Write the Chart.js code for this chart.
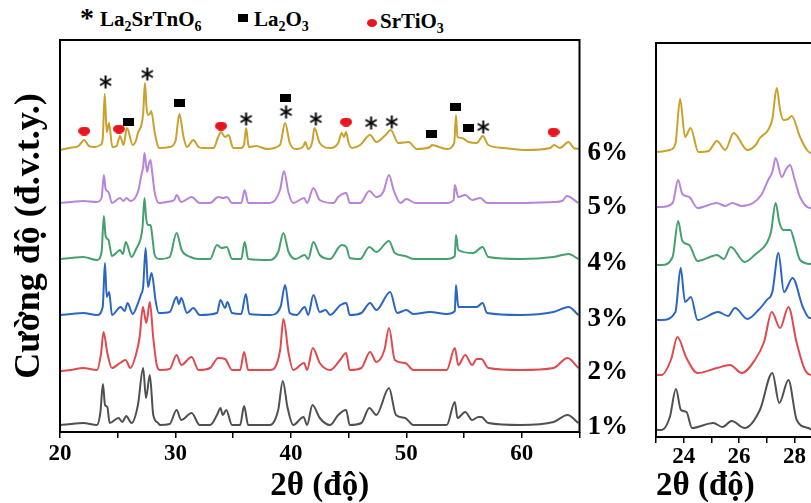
<!DOCTYPE html>
<html>
<head>
<meta charset="utf-8">
<script src="https://cdn.jsdelivr.net/npm/chart.js@4"></script>
<style>
  html, body { margin: 0; padding: 0; background: #fff; overflow: hidden; width: 811px; height: 503px; }
  canvas { position: absolute; top: 0; }
  #main { left: 0; }
  #zoom { left: 650px; }
  .lg { position: absolute; font: bold 21px "Liberation Serif", serif; color: #000; white-space: nowrap; line-height: 1; }
  .lg sub { font-size: 14px; vertical-align: -5px; }
  .mk { position: absolute; }
</style>
</head>
<body>
<div class="lg" style="left:80px; top:4px; font-size:28px">*</div>
<div class="lg" style="left:100px; top:9px">La<sub>2</sub>SrTnO<sub>6</sub></div>
<div class="mk" style="left:238px; top:14px; width:10px; height:8px; background:#000"></div>
<div class="lg" style="left:254px; top:9px">La<sub>2</sub>O<sub>3</sub></div>
<div class="mk" style="left:367px; top:19px; width:10px; height:8px; border-radius:50%; background:#e8141e"></div>
<div class="lg" style="left:380px; top:11px">SrTiO<sub>3</sub></div>

<canvas id="main" width="650" height="503"></canvas>
<canvas id="zoom" width="180" height="503"></canvas>

<script>
// XRD patterns, 2θ (degrees) vs stacked intensity (a.u.)
const sampleLabels = ['1%', '2%', '3%', '4%', '5%', '6%']
const lineColors = ['#505050', '#e04a4e', '#2a66c2', '#44a06c', '#b884da', '#c9a12b']
const mainTicks = [20, 30, 40, 50, 60]
const zoomTicks = [24, 26, 28]

const s1 = [[20,7],[21,8],[22,9],[23.2,7],[23.5,20],[23.72,48],[23.9,27],[24.1,25],[24.3,9],[25.07,14],[25.4,10],[25.73,16],[26.2,9],[26.75,27],[27.2,64],[27.45,34],[27.78,57],[28.08,17],[28.5,9],[28.67,7],[29.5,8],[30.1,22],[30.5,12],[31.4,19],[32.1,7],[33.0,7],[33.6,17],[33.9,24],[34.1,17],[34.4,22],[34.9,7],[35.6,7],[35.95,26],[36.3,7],[38.2,7],[38.9,22],[39.3,51],[39.7,25],[40.2,7],[41.1,15],[41.4,7],[41.87,27],[42.5,14],[43.4,7],[44.1,17],[44.78,22],[45.1,7],[46.1,9],[46.8,24],[47.4,17],[48.5,44],[49.1,17],[49.9,14],[50.6,7],[53.5,7],[54.2,30],[54.43,14],[55.1,20],[55.7,12],[56.25,15],[56.5,15],[57.1,9],[59.9,7],[62.75,10],[63.96,17],[64.9,9]]
const s2 = [[20,61],[21,62],[22,64],[23.2,62],[23.55,78],[23.77,100],[24.1,79],[24.5,64],[25.2,69],[25.67,72],[26.1,64],[26.57,77],[26.9,95],[27.18,125],[27.48,109],[27.78,130],[28.08,94],[28.38,67],[28.67,62],[29.5,63],[30.1,77],[30.5,67],[31.4,75],[32.0,62],[33.0,64],[33.7,74],[34.3,73],[34.9,62],[35.6,62],[35.95,80],[36.3,62],[38.2,62],[39.07,82],[39.35,113],[39.8,79],[40.2,62],[41.15,69],[41.4,62],[41.9,84],[42.5,69],[43.4,62],[44.26,72],[44.78,79],[45.1,62],[46.1,64],[46.86,80],[47.4,70],[48.1,82],[48.5,104],[49.0,72],[49.9,69],[50.6,62],[53.5,62],[54.2,84],[54.5,67],[55.1,77],[55.7,67],[56.1,73],[56.5,73],[57.1,64],[59.9,62],[62.75,64],[63.96,74],[64.9,64]]
const s3 = [[20,117],[21,118],[22,119],[23.2,117],[23.7,125],[23.89,169],[24.05,135],[24.26,140],[24.5,117],[25.25,125],[25.6,121],[25.85,129],[26.3,118],[26.7,127],[27.0,137],[27.2,145],[27.42,184],[27.62,145],[27.93,159],[28.3,130],[28.55,119],[29.5,120],[30.1,135],[30.3,128],[30.5,134],[31.0,119],[31.55,124],[32.1,117],[33.6,119],[33.9,132],[34.3,124],[34.5,130],[34.9,119],[35.7,118],[36.1,138],[36.4,118],[38.2,117],[39.1,125],[39.5,147],[39.9,119],[40.5,117],[41.2,125],[41.5,117],[41.95,137],[42.5,120],[43.0,122],[43.4,117],[44.3,127],[44.8,129],[45.1,117],[46.1,119],[46.86,129],[47.4,122],[48.6,140],[49.2,119],[50.0,122],[50.6,118],[52.06,120],[53.5,118],[54.2,121],[54.3,147],[54.5,125],[55.4,125],[56.1,125],[56.6,129],[57.0,119],[59.9,117],[62.75,120],[64.05,125],[64.9,117]]
const s4 = [[20,173],[21,174],[22,175],[23.2,172],[23.6,180],[23.8,216],[23.95,196],[24.2,192],[24.5,176],[25.05,181],[25.2,182],[25.45,178],[25.7,190],[26.2,175],[26.6,183],[27.0,194],[27.15,205],[27.32,234],[27.45,215],[27.6,207],[27.85,207],[28.0,195],[28.2,177],[28.6,173],[29.5,175],[30.1,199],[30.54,182],[31.3,175],[32.0,173],[33.0,173],[33.6,187],[34.0,184],[34.45,185],[34.9,173],[35.7,173],[36.0,190],[36.3,173],[38.2,172],[38.9,180],[39.35,199],[39.8,180],[40.4,173],[41.2,177],[41.5,173],[41.95,190],[42.5,177],[43.4,173],[44.1,184],[44.4,187],[44.8,185],[45.1,174],[46.0,173],[46.8,185],[47.4,180],[48.5,191],[49.0,179],[49.9,176],[50.6,173],[53.5,173],[54.2,176],[54.3,197],[54.5,182],[55.8,179],[56.6,185],[57.1,175],[59.9,173],[62.75,175],[64.05,178],[64.9,173]]
const s5 = [[20,229],[21,230],[22,231],[23.2,230],[23.6,234],[23.8,257],[23.95,243],[24.2,240],[24.5,229],[25.2,234],[25.5,231],[25.75,234],[26.1,231],[26.5,234],[26.8,242],[27.05,257],[27.2,265],[27.32,279],[27.54,260],[27.7,268],[27.84,272],[28.0,258],[28.2,240],[28.56,229],[29.2,230],[29.9,232],[30.1,237],[30.5,230],[31.4,235],[32.1,229],[33.0,229],[33.7,235],[34.15,234],[34.45,235],[34.9,229],[35.7,229],[36.0,242],[36.3,229],[38.2,229],[39.06,242],[39.4,261],[39.8,239],[40.2,229],[41.15,234],[41.4,229],[41.95,244],[42.5,232],[43.7,229],[44.1,235],[44.8,239],[45.1,229],[46.0,229],[46.8,241],[47.4,235],[48.0,240],[48.5,257],[48.9,242],[49.5,229],[50.0,233],[50.8,229],[53.5,229],[54.1,232],[54.2,247],[54.5,235],[55.1,237],[55.7,232],[56.4,234],[57.0,229],[59.9,229],[62.75,230],[63.5,231],[63.9,236],[64.9,229]]
const s6 = [[20,282],[20.8,284],[21.6,286],[22.1,292],[22.5,286],[23.0,285],[23.5,287],[23.7,293],[23.87,338],[24.05,300],[24.25,309],[24.53,285],[24.9,286],[25.2,296],[25.5,287],[25.8,304],[26.3,287],[26.6,292],[26.75,299],[27.05,307],[27.2,318],[27.36,349],[27.48,327],[27.6,317],[27.77,318],[27.9,321],[28.2,300],[28.45,287],[28.6,284],[29.5,285],[30.0,291],[30.34,318],[30.7,295],[31.0,285],[31.55,292],[32.0,285],[32.4,284],[33.3,284],[33.7,295],[33.95,300],[34.3,295],[34.6,297],[35.0,284],[35.7,284],[35.95,288],[36.12,304],[36.35,285],[37.0,286],[37.9,283],[39.05,287],[39.5,309],[39.9,289],[40.5,283],[41.1,286],[41.23,290],[41.5,283],[41.85,290],[42.04,304],[42.5,289],[43.4,284],[44.1,289],[44.4,299],[44.6,295],[44.78,300],[45.0,289],[45.3,284],[46.0,287],[46.86,297],[47.4,290],[48.2,297],[48.65,302],[49.3,289],[50.2,290],[50.9,283],[52.06,285],[52.2,287],[53.5,283],[54.15,289],[54.3,317],[54.43,295],[54.8,294],[55.4,290],[56.1,289],[56.63,296],[57.1,287],[58.4,284],[60.4,282],[62.46,284],[62.8,287],[63.3,284],[64.05,290],[64.5,284],[65,283]]
const series = [s1, s2, s3, s4, s5, s6]

// phase markers above the 6% pattern
const markLa2SrTnO6 = [[23.95,350],[27.56,358],[36.12,313],[39.58,320],[42.16,313],[46.95,309],[48.74,310],[56.66,305]]
const markLa2O3 = [[25.92,310],[30.34,329],[39.5,334],[52.21,298],[54.29,325],[55.38,304]]
const markSrTiO3 = [[22.1,301],[25.11,303],[33.95,306],[44.78,310],[62.75,300]]

const serif = '"Liberation Serif", "Times New Roman", serif'

function makeIcon(w, h, draw) {
  const c = document.createElement('canvas')
  c.width = w
  c.height = h
  draw(c.getContext('2d'), w, h)
  return c
}
const starIcon = makeIcon(15, 15, (g) => {
  g.strokeStyle = '#000'
  g.lineWidth = 2
  for (const a of [90, 30, -30]) {
    const r = a * Math.PI / 180
    g.beginPath()
    g.moveTo(7.5 - 6.5 * Math.cos(r), 7.5 - 6.5 * Math.sin(r))
    g.lineTo(7.5 + 6.5 * Math.cos(r), 7.5 + 6.5 * Math.sin(r))
    g.stroke()
  }
})
const squareIcon = makeIcon(11, 8, (g, w, h) => { g.fillStyle = '#000'; g.fillRect(0, 0, w, h) })
const dotIcon = makeIcon(12, 9, (g, w, h) => {
  g.fillStyle = '#e8141e'
  g.beginPath()
  g.ellipse(w / 2, h / 2, w / 2, h / 2, 0, 0, Math.PI * 2)
  g.fill()
})

const toXY = (arr) => arr.map(([x, y]) => ({ x, y }))

function lineSets() {
  return series.map((s, i) => ({
    label: sampleLabels[i],
    data: toXY(s),
    borderColor: lineColors[i],
    borderWidth: 2,
    pointRadius: 0,
    cubicInterpolationMode: 'monotone',
    fill: false
  }))
}

const markerSet = (pts, icon) => ({
  data: toXY(pts),
  showLine: false,
  pointStyle: icon,
  pointRadius: 6,
  borderColor: 'transparent',
  backgroundColor: 'transparent'
})

const frame = {
  id: 'frame',
  afterDraw(chart) {
    const { ctx, chartArea: a } = chart
    ctx.save()
    ctx.strokeStyle = '#000'
    ctx.lineWidth = 2
    ctx.strokeRect(a.left, a.top, a.right - a.left, a.bottom - a.top)
    ctx.restore()
  }
}

const sampleTags = {
  id: 'sampleTags',
  afterDraw(chart) {
    const { ctx, chartArea: a, scales: { y } } = chart
    ctx.save()
    ctx.font = 'bold 27px ' + serif
    ctx.fillStyle = '#000'
    ctx.textBaseline = 'middle'
    series.forEach((s, i) => {
      ctx.fillText(sampleLabels[i], a.right + 8, y.getPixelForValue(s[s.length - 1][1]) + 4)
    })
    ctx.restore()
  }
}

const tickFont = { family: serif, weight: 'bold', size: 23 }
const titleFont = { family: serif, weight: 'bold', size: 33 }

new Chart(document.getElementById('main'), {
  type: 'line',
  data: {
    datasets: [
      ...lineSets(),
      markerSet(markLa2SrTnO6, starIcon),
      markerSet(markLa2O3, squareIcon),
      markerSet(markSrTiO3, dotIcon)
    ]
  },
  options: {
    responsive: false,
    animation: false,
    layout: { padding: { top: 40, right: 70.5, left: 0, bottom: 0 } },
    plugins: { legend: { display: false }, tooltip: { enabled: false } },
    scales: {
      x: {
        type: 'linear', min: 20, max: 65,
        ticks: {
          stepSize: 5, autoSkip: false, maxRotation: 0, color: '#000', font: tickFont, padding: 2,
          callback: (v) => mainTicks.includes(v) ? v : ''
        },
        grid: { drawOnChartArea: false, tickLength: 6, color: '#000', lineWidth: 1.5 },
        border: { display: false },
        title: { display: true, text: '2θ (độ)', color: '#000', font: titleFont, padding: { top: 0, bottom: -3 } },
        afterFit: (s) => { s.height = 71 }
      },
      y: {
        min: 0, max: 392,
        ticks: { display: false },
        grid: { display: false },
        border: { display: false },
        title: { display: true, text: 'Cường độ (đ.v.t.y.)', color: '#000', font: { family: serif, weight: 'bold', size: 36 }, padding: { top: 8, bottom: 0 } },
        afterFit: (s) => { s.width = 60 }
      }
    }
  },
  plugins: [frame, sampleTags]
})

new Chart(document.getElementById('zoom'), {
  type: 'line',
  data: { datasets: lineSets() },
  options: {
    responsive: false,
    animation: false,
    layout: { padding: { top: 43, right: 7.8, left: 6, bottom: 0 } },
    plugins: { legend: { display: false }, tooltip: { enabled: false } },
    scales: {
      x: {
        type: 'linear', min: 23, max: 29,
        ticks: {
          stepSize: 1, autoSkip: false, maxRotation: 0, color: '#000', font: tickFont, padding: 0,
          callback: (v) => zoomTicks.includes(v) ? v : ''
        },
        grid: { drawOnChartArea: false, tickLength: 6, color: '#000', lineWidth: 1.5 },
        border: { display: false },
        title: { display: true, text: '2θ (độ)', color: '#000', font: titleFont, padding: { top: 0, bottom: -3 }, align: 'start' },
        afterFit: (s) => { s.height = 66 }
      },
      y: { display: false, min: 0, max: 394 }
    }
  },
  plugins: [frame]
})
</script>
</body>
</html>
